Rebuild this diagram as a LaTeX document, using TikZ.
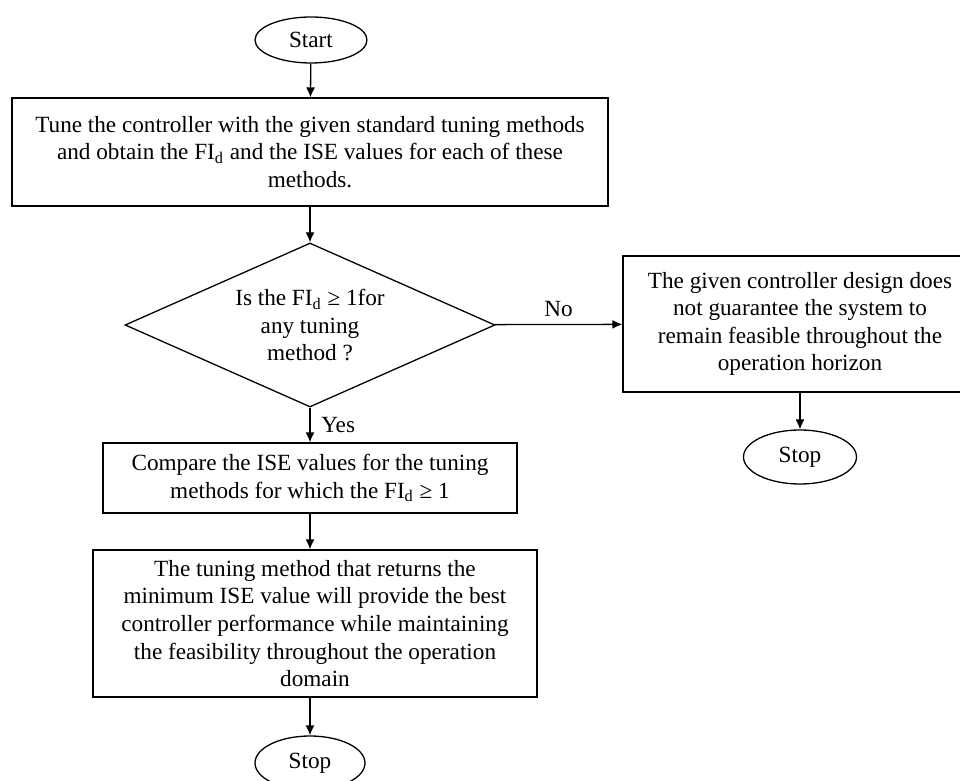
\documentclass[tikz,border=0pt]{standalone}
\usepackage{fontspec}
\setmainfont{Liberation Serif}
\usepackage{tikz}
\usetikzlibrary{shapes.geometric,arrows.meta}

\begin{document}
\begin{tikzpicture}[x=0.5pt,y=-0.5pt,line width=0.65pt,
        every node/.style={font=\fontsize{11.6}{13.8}\selectfont},
        term/.style={ellipse,draw,inner sep=0pt,minimum width=56pt,minimum height=23pt},
        proc/.style={rectangle,draw,align=center,inner sep=0pt},
        decide/.style={diamond,draw,align=center,inner sep=0pt,aspect=2.25,minimum width=185pt,minimum height=82pt},
        arr/.style={-{Latex[length=5pt,width=4.5pt]}}]
        \useasboundingbox (0,0) rectangle (960,781);
        \clip (0,0) rectangle (960,781);

        \node[term] (start) at (311,40) {Start};
        \node[proc,minimum width=298pt,minimum height=54pt] (tune) at (310,152)
            {Tune the controller with the given standard tuning methods\\
             and obtain the FI\textsubscript{d} and the ISE values for each of these\\
             methods.};
        \node[decide] (check) at (310,325) {Is the FI\textsubscript{d} ≥ 1for\\any tuning\\method ?};
        \node[proc,minimum width=177pt,minimum height=68pt] (nogo) at (800,324)
            {The given controller design does\\not guarantee the system to\\
             remain feasible throughout the\\operation horizon};
        \node[term,minimum width=56.5pt,minimum height=27pt] (stopa) at (800,457) {Stop};
        \node[proc,minimum width=207pt,minimum height=35pt] (compare) at (310,478)
            {Compare the ISE values for the tuning\\methods for which the FI\textsubscript{d} ≥ 1};
        \node[proc,minimum width=222pt,minimum height=73.5pt] (best) at (315,623.5)
            {The tuning method that returns the\\minimum ISE value will provide the best\\
             controller performance while maintaining\\the feasibility throughout the operation\\domain};
        \node[term,minimum width=55pt,minimum height=27pt] (stopb) at (310,763) {Stop};

        \draw[arr] (start) -- (tune);
        \draw[arr] (tune) -- (check);
        \draw[arr] (check) -- node[above] {No} (nogo);
        \draw[arr] (nogo) -- (stopa);
        \draw[arr] (check) -- node[right,xshift=2pt] {Yes} (compare);
        \draw[arr] (compare) -- (compare |- best.north);
        \draw[arr] (best.south -| compare) -- (stopb);

    \end{tikzpicture}
\end{document}
